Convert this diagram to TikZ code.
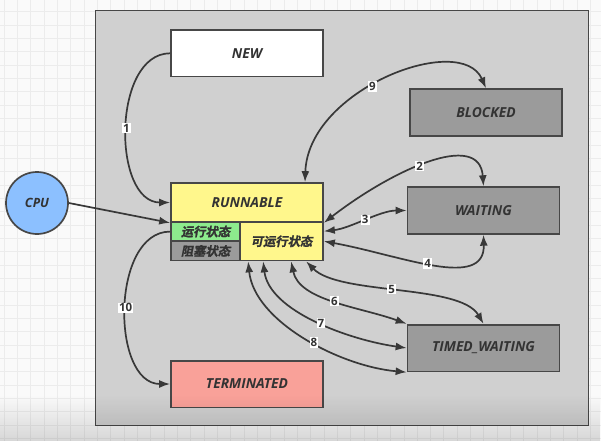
\documentclass[tikz,border=0pt]{standalone}
\usepackage{fontspec}
\setmainfont{Open Sans}
\newfontfamily\cjk[FakeSlant=0.2,FakeBold=1.2]{Noto Sans CJK SC Bold}
\usetikzlibrary{arrows.meta,calc,fadings}
\definecolor{edgec}{HTML}{383838}
\definecolor{borderc}{HTML}{474747}
\definecolor{txtc}{HTML}{333333}
\definecolor{outerc}{HTML}{D0D0D0}
\definecolor{grayc}{HTML}{9B9B9B}
\definecolor{yellowc}{HTML}{FFF78C}
\definecolor{greenc}{HTML}{8DEB8D}
\definecolor{redc}{HTML}{F9A199}
\definecolor{bluec}{HTML}{8CC0FF}
\definecolor{gridc}{HTML}{ECECEC}
\tikzfading[name=bottomfade, top color=transparent!100, bottom color=transparent!86]
\tikzset{
  statebox/.style={draw=borderc, line width=1.7pt, minimum width=152pt, minimum height=46.7pt, inner sep=0pt, text=txtc, font=\fontsize{13.8}{15}\selectfont\bfseries\itshape},
  cell/.style={draw=borderc, line width=1.7pt, inner sep=0pt, text=txtc, font=\fontsize{12.3}{14}\selectfont\cjk},
  conn/.style={draw=edgec, line width=1.7pt},
  tip/.style={-{Latex[length=11pt,width=8pt]}},
  bitip/.style={{Latex[length=11pt,width=8pt]}-{Latex[length=11pt,width=8pt]}},
  lbl/.style={fill=white, inner sep=1pt, text=txtc, font=\fontsize{11.5}{12}\selectfont\bfseries}
}
\begin{document}
\begin{tikzpicture}[x=1pt,y=-1pt]
\useasboundingbox (0,0) rectangle (601,441);
\fill[white!98!black] (0,0) rectangle (601,441);
\foreach \i in {0,...,45} {
  \draw[gridc, line width=0.8pt] (4+13.33*\i,0) -- (4+13.33*\i,441);
}
\foreach \i in {0,...,33} {
  \draw[gridc, line width=0.8pt] (0,-1.6+13.33*\i) -- (601,-1.6+13.33*\i);
}
% outer frame
\node[draw=borderc, fill=outerc, line width=1.8pt, minimum width=493pt, minimum height=415pt, inner sep=0pt] (frame) at (342,218) {};

% states
\node[statebox, fill=white] (new) at (247,53.3) {NEW};
\node[statebox, fill=grayc] (blocked) at (486,112.5) {BLOCKED};
\node[statebox, fill=grayc] (waiting) at (483.5,210.5) {WAITING};
\node[statebox, fill=grayc] (timed) at (483.5,348) {TIMED\_WAITING};
\node[statebox, fill=redc] (term) at (247,384) {TERMINATED};
\node[statebox, fill=yellowc, minimum height=39pt] (runnable) at (247,202.5) {RUNNABLE};
\node[cell, fill=greenc, minimum width=69pt, minimum height=19.25pt] (run) at (205.5,231.6) {运行状态};
\node[cell, fill=grayc, minimum width=69pt, minimum height=19.25pt] (blk) at (205.5,250.9) {阻塞状态};
\node[cell, fill=yellowc, minimum width=83pt, minimum height=38.5pt] (ready) at (281.5,241.25) {可运行状态};
\node[circle, draw=borderc, line width=1.7pt, fill=bluec, minimum size=62pt, inner sep=0pt, text=txtc, font=\fontsize{12.8}{14}\selectfont\bfseries\itshape] (cpu) at (37,203) {CPU};

% connectors
\draw[conn, tip] (new.west) to[out=180,in=180] node[lbl, pos=0.5] {1} (runnable.west);
\draw[conn, tip] (cpu.east) -- (runnable.south west);
\draw[conn, tip] (run.west) to[out=180,in=180] node[lbl, pos=0.5] {10} (term.west);
\draw[conn, bitip] ($(runnable.north)+(58,0)$) .. controls +(3,-93) and +(-25,-57) .. node[lbl, pos=0.44] {9} (blocked.north);
\draw[conn, bitip] (runnable.south east) .. controls +(67,-52) and +(-4,-57) .. node[lbl, pos=0.46] {2} (waiting.north);
\draw[conn, bitip] ($(ready.east)+(0,-10)$) .. controls +(27,-3) and +(-27,0) .. node[lbl, pos=0.5] {3} (waiting.west);
\draw[conn, bitip] (ready.east) .. controls +(77,14) and +(1.5,56) .. node[lbl, pos=0.47] {4} (waiting.south);
\draw[conn, bitip] ($(ready.south west)+(67,0)$) .. controls +(33,34) and +(-23.5,-40) .. node[lbl, pos=0.47] {5} (timed.north);
\draw[conn, bitip] ($(ready.south west)+(52,0)$) .. controls +(8,39.5) and +(-47,-17) .. node[lbl, pos=0.5] {6} (timed.north west);
\draw[conn, bitip] ($(ready.south west)+(24,0)$) .. controls +(6,50) and +(-57,-8) .. node[lbl, pos=0.53] {7} (timed.west);
\draw[conn, bitip] ($(ready.south west)+(9,0)$) .. controls +(6,60) and +(-67,-6) .. node[lbl, pos=0.55] {8} (timed.south west);

% bottom shading of the screenshot
\fill[black, path fading=bottomfade] (0,395) rectangle (601,441);
\end{tikzpicture}
\end{document}
